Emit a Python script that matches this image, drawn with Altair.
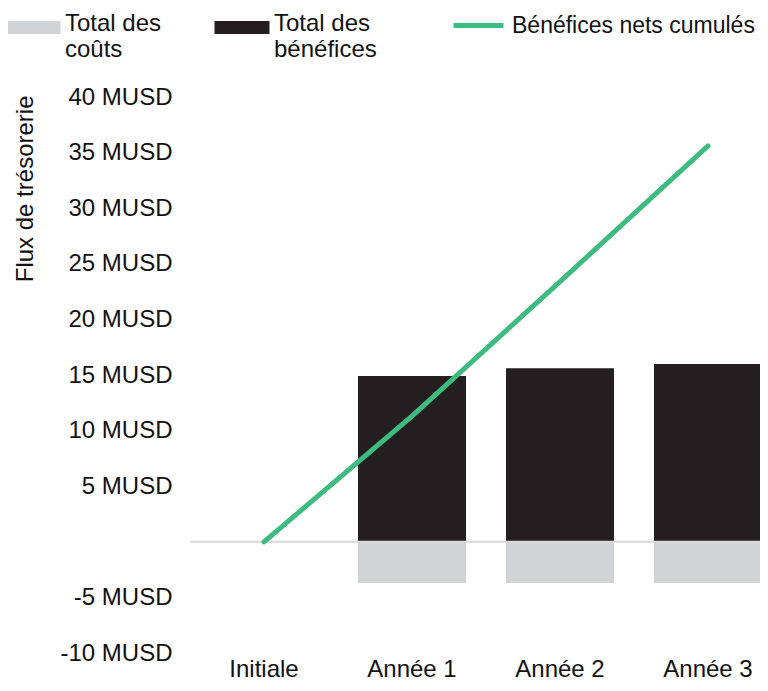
import altair as alt
import pandas as pd

categories = ["Initiale", "Année 1", "Année 2", "Année 3"]
total_costs = [0.0, -3.7, -3.7, -3.7]
total_benefits = [0.0, 14.9, 15.6, 16.0]
cumulative_net = [0.0, 11.3, 23.4, 35.6]
y_ticks = [-10, -5, 5, 10, 15, 20, 25, 30, 35, 40]

cost_name = "Total des coûts"
benefit_name = "Total des bénéfices"
line_name = "Bénéfices nets cumulés"

bars_df = pd.DataFrame({
    "cat": categories * 2,
    "series": [cost_name] * len(categories) + [benefit_name] * len(categories),
    "value": total_costs + total_benefits,
})
line_df = pd.DataFrame({"cat": categories, "series": line_name, "value": cumulative_net})

FONT = "Liberation Sans"
TXT = "#111111"

x_scale = alt.Scale(domain=categories, range=[0, 592], paddingInner=0.27, paddingOuter=0.135)
y_scale = alt.Scale(domain=[-10, 40], nice=False, zero=False)

x_axis = alt.Axis(title=None, labelFontSize=24, labelFont=FONT, labelColor=TXT,
                  ticks=False, domain=False, labelPadding=4, labelAngle=0)
y_axis = alt.Axis(values=y_ticks, labelExpr="datum.value + ' MUSD'",
                  title="Flux de trésorerie", titleX=-165, titleY=-2, titleAngle=-90,
                  titleAlign="right", titleBaseline="middle", titleFontSize=24,
                  titleFont=FONT, titleFontWeight="normal", titleColor=TXT,
                  ticks=False, domain=False, grid=False, labelPadding=18,
                  labelFontSize=24, labelFont=FONT, labelColor=TXT)

bars = alt.Chart(bars_df).mark_bar().encode(
    x=alt.X("cat:N", scale=x_scale, axis=x_axis, sort=categories),
    y=alt.Y("value:Q", scale=y_scale, axis=y_axis),
    fill=alt.Fill("series:N",
                  scale=alt.Scale(domain=[cost_name, benefit_name], range=["#d1d3d4", "#231f20"]),
                  legend=alt.Legend(title=None, orient="none", legendX=-169, legendY=-85,
                                    direction="horizontal",
                                    symbolType="M-4.23,-0.46H4.23V1.54H-4.23Z",
                                    symbolSize=169, symbolStrokeWidth=0, symbolOpacity=1,
                                    labelFontSize=24, labelFont=FONT, labelColor=TXT,
                                    labelOffset=20, columnPadding=52, padding=0,
                                    labelBaseline="middle", labelLimit=300,
                                    labelExpr="[slice(datum.label, 0, 9), slice(datum.label, 10)]")),
)

rule = alt.Chart(pd.DataFrame({"zero": [0]})).mark_rule(color="#d9d9d9", strokeWidth=2).encode(
    y=alt.datum(0)
)

line = alt.Chart(line_df).mark_line(strokeWidth=5, strokeCap="round").encode(
    x=alt.X("cat:N", scale=x_scale, axis=x_axis, sort=categories),
    y=alt.Y("value:Q", scale=y_scale, axis=y_axis),
    stroke=alt.Stroke("series:N", scale=alt.Scale(domain=[line_name], range=["#3dbb80"]),
                      legend=alt.Legend(title=None, orient="none", legendX=261, legendY=-99,
                                        symbolType="stroke", symbolSize=2500, symbolStrokeWidth=5,
                                        labelOffset=6, labelFontSize=23, labelFont=FONT,
                                        labelColor=TXT, padding=0, labelBaseline="middle",
                                        labelLimit=400)),
)

chart = alt.layer(bars, rule, line).properties(
    width=570, height=556,
    padding={"left": 182, "top": 89, "right": 0, "bottom": 30},
    autosize=alt.AutoSizeParams(type="none"),
).configure_view(stroke=None)

chart.save("out.html", embed_options={"renderer": "svg", "actions": False})
